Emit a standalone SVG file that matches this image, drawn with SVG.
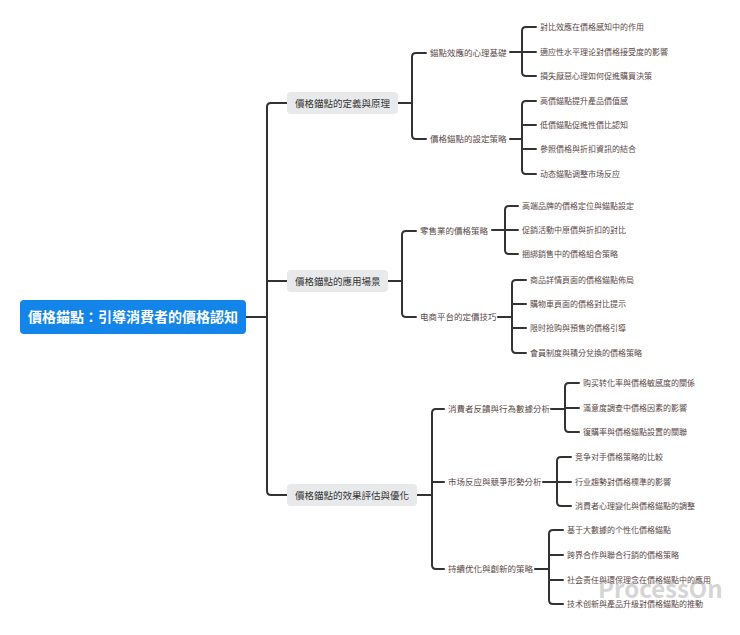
<svg xmlns="http://www.w3.org/2000/svg" width="740" height="635" viewBox="0 0 740 635">
<style>
text{font-family:"Noto Sans CJK TC","Noto Sans CJK SC",sans-serif;}
.l{fill:none;stroke:#333;stroke-width:2;stroke-linecap:round}
.t1{font-size:9.5px;fill:#333}
.t2{font-size:8.5px;fill:#5a4848}
.t3{font-size:8px;fill:#5a4848}
.b1{fill:#e8e9eb}
</style>
<rect width="740" height="635" fill="#fff"/>
<g id="connectors">
<path class="l" d="M246,317 H267 M287,103 H271 Q267,103 267,107 V491 Q267,495 271,495 H287 M267,281 H287"/>
<path class="l" d="M398,103 H412 M426,53 H416 Q412,53 412,57 V135 Q412,139 416,139 H426"/>
<path class="l" d="M510,52 H522 M536,27 H526 Q522,27 522,31 V72 Q522,76 526,76 H536 M522,52 H536"/>
<path class="l" d="M510,139 H522 M536,101 H526 Q522,101 522,105 V170 Q522,174 526,174 H536 M522,125 H536 M522,149 H536"/>
<path class="l" d="M388,281 H402 M416,231 H406 Q402,231 402,235 V313 Q402,317 406,317 H416"/>
<path class="l" d="M492,230 H505 M518,206 H509 Q505,206 505,210 V250 Q505,254 509,254 H518 M505,230 H518"/>
<path class="l" d="M498,317 H512 M526,280 H516 Q512,280 512,284 V349 Q512,353 516,353 H526 M512,304 H526 M512,328 H526"/>
<path class="l" d="M417,495 H432 M444,409 H436 Q432,409 432,413 V565 Q432,569 436,569 H444 M432,482 H444"/>
<path class="l" d="M551,409 H565 M579,383 H569 Q565,383 565,387 V428 Q565,432 569,432 H579 M565,408 H579"/>
<path class="l" d="M543,482 H557 M571,457 H561 Q557,457 557,461 V502 Q557,506 561,506 H571 M557,482 H571"/>
<path class="l" d="M535,569 H549 M563,530 H553 Q549,530 549,534 V600 Q549,604 553,604 H563 M549,555 H563 M549,580 H563"/>
</g>
<g id="root"><rect x="20" y="300" width="226" height="34" rx="4" fill="#1485e8"/><text x="133" y="322" text-anchor="middle" font-size="14" font-weight="bold" fill="#fff">價格錨點：引導消費者的價格認知</text></g>
<g id="n1"><rect class="b1" x="287" y="92" width="111" height="22" rx="4"/><text class="t1" x="295" y="106.5">價格錨點的定義與原理</text></g>
<g id="n2"><rect class="b1" x="287" y="270" width="101" height="22" rx="4"/><text class="t1" x="295" y="284.5">價格錨點的應用場景</text></g>
<g id="n3"><rect class="b1" x="287" y="484" width="130" height="22" rx="4"/><text class="t1" x="295" y="498.5">價格錨點的效果評估與優化</text></g>
<g id="n1a"><text class="t2" x="430" y="56">錨點效應的心理基礎</text></g>
<g id="n1b"><text class="t2" x="430" y="142">價格錨點的設定策略</text></g>
<g id="n2a"><text class="t2" x="420" y="234">零售業的價格策略</text></g>
<g id="n2b"><text class="t2" x="420" y="320">电商平台的定價技巧</text></g>
<g id="n3a"><text class="t2" x="448" y="412">消費者反饋與行為數據分析</text></g>
<g id="n3b"><text class="t2" x="448" y="485">市场反应與競爭形勢分析</text></g>
<g id="n3c"><text class="t2" x="448" y="572">持續优化與創新的策略</text></g>
<g id="leaves">
<text class="t3" x="540" y="30">對比效應在價格感知中的作用</text>
<text class="t3" x="540" y="55">適应性水平理论對價格接受度的影響</text>
<text class="t3" x="540" y="79">損失厭惡心理如何促進購買決策</text>
<text class="t3" x="540" y="104">高價錨點提升產品價值感</text>
<text class="t3" x="540" y="128">低價錨點促進性價比認知</text>
<text class="t3" x="540" y="152">參照價格與折扣資訊的結合</text>
<text class="t3" x="540" y="177">动态錨點调整市场反应</text>
<text class="t3" x="522" y="209">高端品牌的價格定位與錨點設定</text>
<text class="t3" x="522" y="233">促銷活動中原價與折扣的對比</text>
<text class="t3" x="522" y="257">捆綁銷售中的價格組合策略</text>
<text class="t3" x="530" y="283">商品詳情頁面的價格錨點佈局</text>
<text class="t3" x="530" y="307">購物車頁面的價格對比提示</text>
<text class="t3" x="530" y="331">限时抢购與預售的價格引導</text>
<text class="t3" x="530" y="356">會員制度與積分兌換的價格策略</text>
<text class="t3" x="583" y="386">购买转化率與價格敏感度的關係</text>
<text class="t3" x="583" y="411">滿意度調查中價格因素的影響</text>
<text class="t3" x="583" y="435">復購率與價格錨點設置的關聯</text>
<text class="t3" x="575" y="460">竞争对手價格策略的比較</text>
<text class="t3" x="575" y="485">行业趨勢對價格標準的影響</text>
<text class="t3" x="575" y="509">消費者心理變化與價格錨點的調整</text>
<text class="t3" x="567" y="533">基于大數據的个性化價格錨點</text>
<text class="t3" x="567" y="558">跨界合作與聯合行銷的價格策略</text>
<text class="t3" x="567" y="583">社会责任與環保理念在價格錨點中的應用</text>
<text class="t3" x="567" y="607">技术创新與產品升級對價格錨點的推動</text>
</g>
<text x="598" y="598" font-family="Liberation Serif,serif" font-size="24" font-weight="bold" fill="#999" opacity="0.4">ProcessOn</text>
</svg>
